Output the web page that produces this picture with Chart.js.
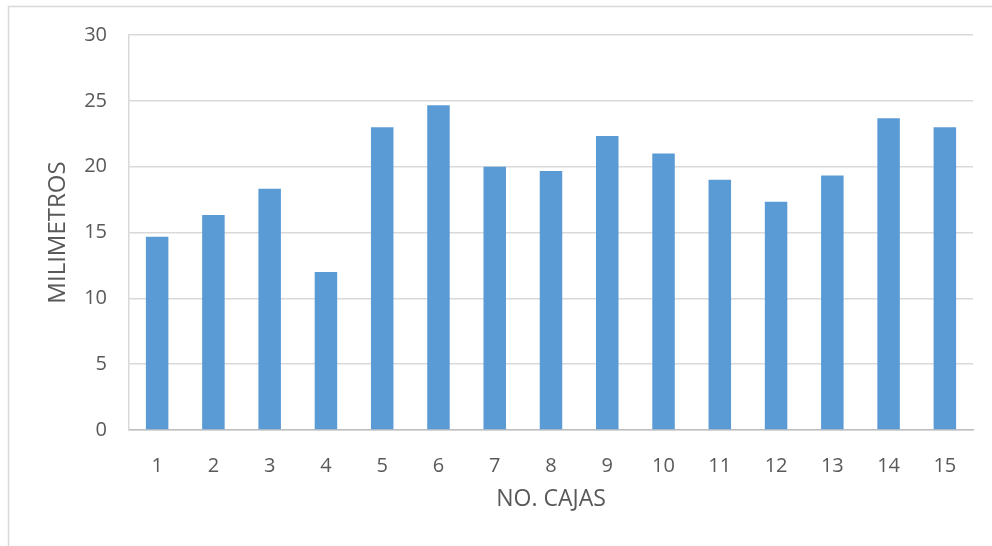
<!DOCTYPE html>
<html>
<head>
<meta charset="utf-8">
<script src="https://cdn.jsdelivr.net/npm/chart.js@4.4.1/dist/chart.umd.min.js"></script>
<style>
  html, body { margin: 0; padding: 0; background: #ffffff; }
  #wrap { width: 992px; height: 546px; position: relative; }
</style>
</head>
<body>
<div id="wrap"><canvas id="chart" width="992" height="546"></canvas></div>
<script>
// Box numbers and measured thickness (mm)
const categories = ['1', '2', '3', '4', '5', '6', '7', '8', '9', '10', '11', '12', '13', '14', '15'];
const milimetros = [14.67, 16.33, 18.33, 12, 23, 24.67, 20, 19.67, 22.33, 21, 19, 17.33, 19.33, 23.67, 23];
const yTicks = [0, 5, 10, 15, 20, 25, 30];

const textColor = '#595959';
const gridColor = '#D9D9D9';
const fontFamily = "'Open Sans', 'Liberation Sans', sans-serif";

// Light frame around the chart area
const framePlugin = {
  id: 'frame',
  beforeDraw(chart) {
    const ctx = chart.ctx;
    ctx.save();
    ctx.fillStyle = '#ffffff';
    ctx.fillRect(0, 0, chart.width, chart.height);
    ctx.strokeStyle = gridColor;
    ctx.lineWidth = 1.5;
    ctx.strokeRect(8.5, 6.5, chart.width + 20, chart.height + 20);
    ctx.restore();
  }
};

new Chart(document.getElementById('chart'), {
  type: 'bar',
  data: {
    labels: categories,
    datasets: [{
      data: milimetros,
      backgroundColor: '#5B9BD5',
      borderWidth: 0,
      categoryPercentage: 1,
      barPercentage: 0.4
    }]
  },
  options: {
    responsive: false,
    animation: false,
    layout: { padding: { top: 35, right: 19, left: 0, bottom: 0 } },
    plugins: {
      legend: { display: false },
      tooltip: { enabled: false }
    },
    scales: {
      x: {
        grid: { display: false, drawTicks: false },
        border: { display: true, color: '#BFBFBF', width: 1.5 },
        ticks: { color: textColor, font: { family: fontFamily, size: 20 }, padding: 24, maxRotation: 0 },
        title: {
          display: true,
          text: 'NO. CAJAS',
          color: textColor,
          font: { family: fontFamily, size: 23 },
          padding: { top: 0, bottom: 33 }
        },
        afterFit(scale) { scale.height = 116; }
      },
      y: {
        min: 0,
        max: 30,
        afterBuildTicks(scale) { scale.ticks = yTicks.map(v => ({ value: v })); },
        grid: { color: gridColor, lineWidth: 1.5, drawTicks: false },
        border: { display: true, color: gridColor, width: 1.5 },
        ticks: { color: textColor, font: { family: fontFamily, size: 20 }, padding: 22 },
        title: {
          display: true,
          text: 'MILIMETROS',
          color: textColor,
          font: { family: fontFamily, size: 24 },
          padding: { top: 44, bottom: 0 }
        },
        afterFit(scale) { scale.width = 129; }
      }
    }
  },
  plugins: [framePlugin]
});
</script>
</body>
</html>
